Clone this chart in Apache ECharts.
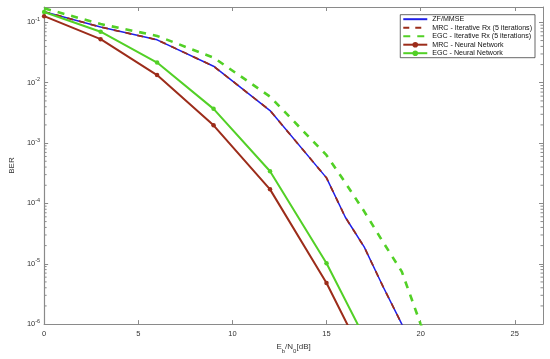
<!DOCTYPE html>
<html>
<head>
<meta charset="utf-8">
<script src="https://cdn.jsdelivr.net/npm/echarts@6/dist/echarts.min.js"></script>
<style>
html,body{margin:0;padding:0;background:#fff;}
#chart{width:550px;height:359px;}
</style>
</head>
<body>
<div id="chart"></div>
<script>
// ---- Data ----
const seriesNames = ['ZF/MMSE', 'MRC - Iterative Rx (5 iterations)', 'EGC - Iterative Rx (5 iterations)', 'MRC - Neural Network', 'EGC - Neural Network'];

const snrZF = [0, 3, 6, 9, 12, 15, 16, 17, 18, 19, 20];
const berZF = [0.15, 0.0838, 0.0514, 0.0188, 0.00346, 2.65e-4, 5.9e-5, 1.9e-5, 4.2e-6, 1.0e-6, 2.0e-7];

const snrMrcIt = [0, 3, 6, 9, 12, 15, 16, 17, 18, 19, 20];
const berMrcIt = [0.15, 0.0838, 0.0514, 0.0188, 0.00346, 2.65e-4, 5.9e-5, 1.9e-5, 4.2e-6, 1.0e-6, 2.0e-7];

const snrEgcIt = [0, 3, 6, 9, 12, 15, 16, 17, 18, 19, 20, 21];
const berEgcIt = [0.171, 0.094, 0.0597, 0.0261, 0.0059, 6.3e-4, 2.2e-4, 7.4e-5, 2.3e-5, 7.4e-6, 1.0e-6, 1.5e-7];

const snrNN = [0, 3, 6, 9, 12, 15, 18];
const berMrcNN = [0.127, 0.0527, 0.0134, 0.00197, 1.71e-4, 4.8e-6, 6.6e-8];
const berEgcNN = [0.149, 0.0701, 0.0216, 0.00369, 3.41e-4, 1.02e-5, 1.5e-7];

const xMin = 0, xMax = 26.5, xInterval = 5;
const yMin = 1e-6, yMax = 0.18;
const yDecades = [1e-6, 1e-5, 1e-4, 1e-3, 1e-2, 1e-1];
const markerSeries = [false, false, false, true, true];

// ---- Styles ----
const cBlue = '#1f1fe8';
const cRed = '#9c2c1a';
const cGreen = '#52d026';
const axisColor = '#8a8a8a';
const textColor = '#333333';
const FONT = '"Liberation Sans", Arial, sans-serif';

function pairs(xs, ys) { return xs.map((x, i) => [x, ys[i]]); }

const chart = echarts.init(document.getElementById('chart'), null, {renderer: 'canvas'});

function yLabel(v) {
  const l = Math.log10(v);
  const e = Math.round(l);
  if (Math.abs(l - e) > 1e-6) return '';
  return '{b|10}{s|' + e + '}';
}

const option = {
  animation: false,
  backgroundColor: '#fff',
  textStyle: {fontFamily: FONT},
  grid: {left: 34, right: 7, top: 7, bottom: 31, containLabel: false},
  legend: {
    orient: 'vertical',
    right: 15,
    top: 14.7,
    padding: [1, 3, 1, 2],
    itemWidth: 24,
    itemHeight: 7,
    itemGap: 1.5,
    borderColor: '#262626',
    borderWidth: 0.7,
    backgroundColor: '#fff',
    textStyle: {fontSize: 7.1, color: '#111', fontFamily: FONT, lineHeight: 7},
    data: seriesNames.map((n, i) => markerSeries[i] ? {name: n} : {name: n, itemStyle: {opacity: 0}})
  },
  xAxis: [{
    type: 'value', min: xMin, max: xMax, interval: xInterval,
    position: 'bottom',
    name: '{n|E}{u|b}{n|/N}{u|0}{n|[dB]}',
    nameLocation: 'middle', nameGap: 12,
    nameTextStyle: {
      rich: {
        n: {fontSize: 8, color: textColor, fontFamily: FONT, lineHeight: 14},
        u: {fontSize: 6, color: textColor, fontFamily: FONT, verticalAlign: 'bottom', lineHeight: 14}
      }
    },
    axisLine: {show: true, onZero: false, lineStyle: {color: axisColor, width: 1.2}},
    axisTick: {show: true, inside: true, length: 4, lineStyle: {color: axisColor}},
    axisLabel: {fontSize: 7.5, color: textColor, margin: 6, showMaxLabel: false, fontFamily: FONT},
    splitLine: {show: false}
  }, {
    type: 'value', min: xMin, max: xMax, interval: xInterval,
    position: 'top',
    axisLine: {show: true, onZero: false, lineStyle: {color: axisColor, width: 1}},
    axisTick: {show: true, inside: true, length: 4, lineStyle: {color: axisColor}},
    axisLabel: {show: false},
    splitLine: {show: false}
  }],
  yAxis: [{
    type: 'log', logBase: 10, min: yMin, max: yMax,
    position: 'left',
    name: 'BER', nameLocation: 'middle', nameGap: 25,
    nameTextStyle: {fontSize: 8, color: textColor, fontFamily: FONT},
    axisLine: {show: true, onZero: false, lineStyle: {color: axisColor, width: 1.2}},
    axisTick: {show: true, inside: true, length: 4, lineStyle: {color: axisColor}},
    axisLabel: {
      formatter: yLabel, margin: 4, showMaxLabel: false,
      rich: {
        b: {fontSize: 7.5, color: textColor, fontFamily: FONT, lineHeight: 12},
        s: {fontSize: 5.5, color: textColor, fontFamily: FONT, verticalAlign: 'top', lineHeight: 12}
      }
    },
    splitLine: {show: false}
  }, {
    type: 'log', logBase: 10, min: yMin, max: yMax,
    position: 'right',
    axisLine: {show: true, onZero: false, lineStyle: {color: axisColor, width: 1}},
    axisTick: {show: true, inside: true, length: 4, lineStyle: {color: axisColor}},
    axisLabel: {show: false},
    splitLine: {show: false}
  }],
  series: [{
    name: seriesNames[0], type: 'line', data: pairs(snrZF, berZF),
    symbol: 'none', clip: true,
    lineStyle: {color: cBlue, width: 1.5}, itemStyle: {color: cBlue}, z: 2
  }, {
    name: seriesNames[1], type: 'line', data: pairs(snrMrcIt, berMrcIt),
    symbol: 'none', clip: true,
    lineStyle: {color: cRed, width: 1.8, type: [6, 6]}, itemStyle: {color: cRed}, z: 3
  }, {
    name: seriesNames[2], type: 'line', data: pairs(snrEgcIt, berEgcIt),
    symbol: 'none', clip: true,
    lineStyle: {color: cGreen, width: 2.6, type: [7, 7]}, itemStyle: {color: cGreen}, z: 3
  }, {
    name: seriesNames[3], type: 'line', data: pairs(snrNN, berMrcNN),
    symbol: 'circle', symbolSize: 4.5, showSymbol: true, clip: true,
    lineStyle: {color: cRed, width: 2}, itemStyle: {color: cRed}, z: 4
  }, {
    name: seriesNames[4], type: 'line', data: pairs(snrNN, berEgcNN),
    symbol: 'circle', symbolSize: 4.5, showSymbol: true, clip: true,
    lineStyle: {color: cGreen, width: 2}, itemStyle: {color: cGreen}, z: 4
  }]
};

chart.setOption(option);

// Minor log ticks (2..9 x 10^k) on left and right axes, drawn inward
const minorVals = [];
yDecades.forEach(d => { for (let m = 2; m <= 9; m++) { const v = d * m; if (v <= yMax) minorVals.push(v); } });
const leftX = chart.convertToPixel({xAxisIndex: 0}, xMin);
const rightX = chart.convertToPixel({xAxisIndex: 0}, xMax);
const graphics = [];
minorVals.forEach(v => {
  const py = chart.convertToPixel({yAxisIndex: 0}, v);
  graphics.push({type: 'line', silent: true, shape: {x1: leftX, y1: py, x2: leftX + 2.5, y2: py}, style: {stroke: axisColor, lineWidth: 1}});
  graphics.push({type: 'line', silent: true, shape: {x1: rightX, y1: py, x2: rightX - 2.5, y2: py}, style: {stroke: axisColor, lineWidth: 1}});
});
chart.setOption({graphic: graphics});
</script>
</body>
</html>
